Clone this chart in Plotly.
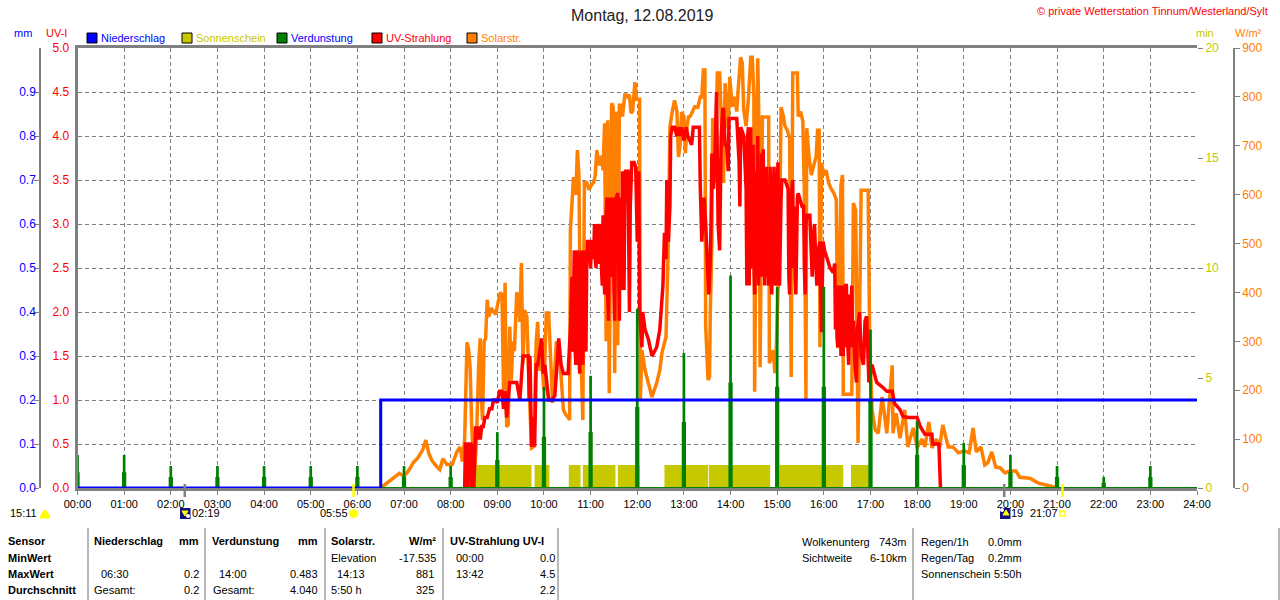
import plotly.graph_objects as go

# ---- data ------------------------------------------------------------------
hour_ticks = [h * 60 for h in range(25)]
hour_labels = ["%02d:00" % h for h in range(25)]

rain_min = [0, 390, 390, 1440]
rain_mm = [0, 0, 0.2, 0.2]

sun_min = [502, 505, 512, 584, 588, 607, 632, 647, 650, 692, 695, 723, 755, 811, 812, 891, 903, 985, 995, 1018]
sun_val = [1.05, 0, 1.05, 0, 1.05, 0, 1.05, 0, 1.05, 0, 1.05, 0, 1.05, 0, 1.05, 0, 1.05, 0, 1.05, 0]

evap_hours = list(range(24))
evap_low = [0.036, 0.036, 0.025, 0.025, 0.025, 0.025, 0.025, 0.025, 0.025, 0.064, 0.116, 0.127, 0.184,
            0.15, 0.24, 0.23, 0.23, 0.2, 0.075, 0.052, 0.036, 0.025, 0.012, 0.025]
evap_top = [0.075, 0.075, 0.05, 0.05, 0.05, 0.05, 0.05, 0.05, 0.05, 0.127, 0.23, 0.255, 0.407,
            0.307, 0.483, 0.457, 0.457, 0.36, 0.152, 0.102, 0.075, 0.05, 0.025, 0.05]

solar_min = [390, 396, 402, 408, 414, 420, 426, 432, 438, 444, 448, 452, 456, 462, 466, 470, 475, 482, 488, 492,
             495, 498, 500, 501, 503, 505, 507, 509, 511, 513, 516, 518, 519, 521, 523, 525, 527, 529, 532, 535,
             538, 541, 544, 546, 548, 550, 552, 554, 556, 558, 560, 562, 565, 567, 569, 571, 573, 575, 578, 581,
             584, 587, 590, 592, 594, 597, 600, 603, 606, 609, 611, 613, 616, 619, 622, 625, 628, 631, 633, 634,
             636, 638, 641, 643, 645, 647, 650, 652, 655, 658, 661, 664, 666, 668, 671, 674, 676, 678, 680, 682,
             684, 686, 687, 689, 691, 693, 695, 697, 699, 701, 704, 706, 708, 710, 712, 714, 717, 719, 721, 723,
             724, 726, 730, 734, 739, 745, 749, 752, 755, 757, 760, 762, 765, 768, 771, 773, 775, 777, 780, 782,
             784, 786, 788, 791, 794, 798, 801, 803, 805, 807, 808, 811, 813, 814, 816, 817, 819, 821, 823, 826,
             829, 831, 833, 835, 837, 839, 842, 845, 848, 850, 853, 855, 857, 860, 863, 866, 868, 870, 871, 873,
             875, 877, 878, 881, 884, 886, 889, 890, 895, 897, 899, 901, 903, 905, 908, 910, 913, 916, 918, 920,
             923, 926, 927, 930, 933, 935, 937, 938, 941, 944, 947, 950, 952, 954, 955, 957, 960, 963, 966, 969,
             973, 976, 978, 980, 982, 984, 985, 988, 992, 996, 998, 1001, 1004, 1006, 1008, 1012, 1017, 1019, 1022, 1026,
             1030, 1035, 1041, 1048, 1049, 1053, 1058, 1064, 1068, 1075, 1080, 1086, 1090, 1095, 1099, 1105, 1109, 1113, 1120, 1126,
             1133, 1141, 1147, 1152, 1156, 1162, 1167, 1171, 1176, 1181, 1187, 1193, 1199, 1207, 1212, 1225, 1236, 1251, 1260]
solar_wm2 = [0, 8, 14, 22, 30, 24, 36, 52, 62, 78, 98, 70, 56, 44, 38, 60, 48, 48, 74, 84,
             54, 100, 200, 298, 285, 247, 130, 60, 43, 90, 250, 306, 200, 139, 300, 306, 385, 350, 368, 360,
             355, 380, 400, 395, 200, 420, 125, 130, 330, 220, 300, 280, 400, 385, 340, 460, 255, 364, 350, 200,
             82, 85, 300, 340, 240, 260, 200, 358, 358, 250, 174, 220, 300, 280, 230, 160, 150, 145, 139, 527,
             585, 636, 600, 691, 640, 300, 139, 625, 625, 610, 620, 625, 640, 691, 660, 680, 650, 746, 300, 752,
             194, 752, 787, 780, 235, 770, 292, 783, 783, 760, 804, 804, 800, 804, 767, 770, 830, 795, 795, 795,
             180, 282, 241, 215, 186, 215, 241, 278, 300, 309, 500, 738, 770, 793, 770, 677, 700, 769, 760, 685,
             740, 759, 760, 769, 780, 779, 800, 800, 855, 855, 333, 221, 228, 364, 500, 757, 624, 700, 849, 849,
             720, 624, 828, 780, 735, 841, 780, 800, 770, 820, 881, 870, 773, 740, 797, 881, 881, 800, 197, 600,
             879, 700, 247, 759, 759, 759, 759, 255, 282, 235, 290, 400, 500, 779, 760, 740, 732, 715, 227, 849,
             849, 849, 760, 770, 750, 600, 180, 736, 677, 640, 660, 677, 732, 732, 288, 665, 640, 650, 625, 613,
             603, 590, 286, 400, 620, 640, 192, 192, 192, 192, 583, 568, 92, 300, 609, 609, 609, 300, 160, 119,
             112, 186, 112, 251, 112, 153, 102, 160, 84, 123, 82, 100, 84, 135, 82, 100, 84, 129, 84, 84,
             72, 76, 72, 123, 74, 84, 47, 52, 74, 43, 41, 31, 35, 35, 22, 20, 10, 4, 0]

uv_points = [
    (498, 0), (499, 0.5), (501, 0.5), (502, 0), (504, 0.5), (506, 0.5), (507, 0), (509, 0.5), (510, 0), (512, 0.7),
    (514, 0.55), (516, 0.7), (518, 0.55), (520, 0.7), (522, 0.7), (524, 0.8), (527, 0.8), (530, 0.9), (533, 0.9), (535, 1.0),
    (537, 1.0), (540, 0.97), (543, 1.1), (546, 1.1), (548, 0.9), (550, 1.1), (552, 0.8), (554, 1.0), (556, 1.2), (559, 1.2),
    (562, 1.2), (565, 1.2), (569, 1.0), (571, 1.3), (573, 1.5), (575, 1.5), (578, 1.5), (580, 1.5), (581, 1.0), (582, 1.5),
    (584, 0.47), (586, 0.8), (588, 0.47), (590, 1.4), (592, 1.4), (595, 1.6), (597, 1.7), (599, 1.3), (601, 1.4), (603, 1.25),
    (606, 1.0), (610, 1.0), (614, 1.05), (616, 1.3), (618, 1.7), (619, 1.7), (622, 1.4), (625, 1.3), (628, 1.3), (631, 1.3),
    (634, 1.8), (636, 2.4), (637, 1.55), (638, 2.5), (639, 2.7), (640, 1.6), (641, 1.4), (642, 2.6), (643, 2.7), (644, 1.7),
    (645, 1.4), (646, 1.3), (647, 2.5), (648, 2.7), (649, 1.8), (650, 1.4), (651, 2.5), (652, 2.7), (653, 1.9), (654, 1.55),
    (655, 2.6), (656, 2.8), (658, 2.8), (659, 2.5), (660, 2.5), (661, 2.8), (663, 2.8), (664, 2.6), (665, 3.0), (666, 2.6),
    (667, 2.5), (668, 2.9), (669, 3.0), (670, 2.6), (671, 2.55), (672, 2.9), (673, 3.0), (674, 2.5), (675, 2.3), (676, 3.1),
    (677, 2.5), (678, 2.2), (679, 2.9), (680, 3.1), (681, 3.3), (682, 2.2), (683, 1.9), (684, 3.1), (685, 3.3), (686, 2.6),
    (687, 2.4), (688, 3.1), (689, 3.3), (690, 2.3), (691, 1.9), (692, 3.0), (693, 3.3), (695, 3.35), (696, 2.3), (697, 1.9),
    (698, 3.1), (699, 3.3), (700, 2.25), (701, 3.6), (702, 2.6), (703, 2.25), (704, 3.4), (705, 3.6), (708, 3.6), (709, 2.6),
    (710, 2.0), (711, 3.2), (712, 3.4), (713, 3.7), (716, 3.7), (718, 3.65), (720, 2.8), (722, 3.6), (723, 2.0), (726, 1.6),
    (727, 2.0), (730, 1.8), (734, 1.7), (739, 1.5), (745, 1.6), (749, 1.8), (753, 2.3), (755, 2.9), (757, 2.6), (758, 3.5),
    (760, 2.8), (762, 3.2), (763, 4.0), (765, 4.1), (768, 4.1), (771, 4.0), (773, 4.1), (775, 4.0), (777, 4.1), (780, 3.95),
    (783, 4.1), (785, 4.0), (790, 3.9), (792, 4.1), (795, 4.1), (798, 4.1), (800, 4.1), (801, 3.45), (803, 2.8), (806, 3.3),
    (808, 3.0), (812, 2.2), (814, 2.6), (815, 3.05), (816, 3.8), (818, 3.4), (820, 3.8), (822, 4.5), (824, 3.0), (826, 2.7),
    (828, 4.0), (830, 4.3), (831, 4.3), (833, 3.9), (835, 3.9), (837, 3.6), (838, 4.2), (841, 4.2), (844, 4.2), (848, 4.2),
    (851, 3.7), (852, 3.2), (853, 4.1), (857, 4.0), (860, 3.4), (861, 2.3), (862, 4.0), (863, 4.1), (864, 2.3), (865, 3.0),
    (866, 4.1), (867, 2.5), (869, 3.9), (870, 2.6), (871, 2.2), (872, 3.6), (873, 2.4), (875, 4.0), (876, 2.3), (877, 3.5),
    (878, 2.4), (880, 3.8), (881, 2.4), (882, 3.85), (883, 2.5), (884, 2.3), (885, 3.4), (886, 3.65), (887, 2.4), (888, 3.2),
    (889, 2.3), (891, 3.65), (892, 2.4), (893, 2.2), (895, 3.4), (896, 3.65), (897, 2.4), (898, 2.3), (900, 3.4), (901, 3.7),
    (902, 2.4), (903, 2.3), (905, 3.3), (906, 3.5), (910, 3.5), (912, 3.45), (914, 3.4), (915, 2.4), (916, 2.2), (918, 3.3),
    (920, 3.5), (921, 2.5), (922, 3.2), (923, 2.4), (924, 2.2), (926, 3.3), (927, 3.35), (932, 3.2), (934, 3.2), (935, 2.5),
    (936, 2.2), (937, 3.0), (938, 3.1), (942, 3.1), (944, 2.6), (945, 2.4), (947, 2.9), (948, 3.0), (950, 2.5), (951, 2.3),
    (953, 2.7), (955, 2.8), (956, 2.2), (957, 1.77), (958, 2.3), (959, 2.8), (961, 2.7), (964, 2.6), (968, 2.5), (972, 2.45),
    (974, 2.55), (975, 1.8), (976, 2.3), (977, 1.7), (978, 1.6), (979, 2.3), (980, 1.8), (981, 2.3), (982, 1.5), (983, 2.3),
    (984, 1.7), (985, 1.5), (986, 2.3), (987, 1.6), (988, 2.3), (989, 2.3), (990, 1.8), (991, 1.5), (992, 1.4), (993, 2.2),
    (994, 1.6), (996, 2.3), (997, 1.6), (998, 1.9), (1000, 1.4), (1002, 1.2), (1003, 1.8), (1006, 2.0), (1008, 1.5), (1011, 1.4),
    (1013, 1.9), (1015, 1.95), (1018, 1.2), (1022, 1.4), (1028, 1.2), (1035, 1.15), (1041, 1.1), (1048, 1.1), (1051, 0.96), (1058, 0.89),
    (1062, 0.81), (1070, 0.8), (1080, 0.8), (1084, 0.7), (1090, 0.61), (1099, 0.61), (1100, 0.5), (1108, 0.5), (1109, 0.25), (1110, 0),
]
uv_min = [p[0] for p in uv_points]
uv_idx = [p[1] for p in uv_points]

# ---- styling ---------------------------------------------------------------
W, H = 1280.0, 600.0
FONT = "Liberation Sans"
GREY = "#808080"
BLUE = "#0000ff"
YELL = "#c8c800"
GREEN = "#008000"
RED = "#ff0000"
ORANGE = "#ff8000"
SUNY = "#ffff00"


def px(v):
    return v / W


def py(v):
    return 1 - v / H


fig = go.Figure()

# drawing order follows axis number: sunshine, solar, UV, evaporation, rain
fig.add_trace(go.Scatter(x=sun_min, y=sun_val, mode="lines", name="Sonnenschein", line=dict(shape="hv", width=0, color=YELL),
                         fill="tozeroy", fillcolor=YELL, yaxis="y", hoverinfo="skip"))
fig.add_trace(go.Scatter(x=solar_min, y=solar_wm2, mode="lines", name="Solarstr.", line=dict(color=ORANGE, width=3.5), yaxis="y2"))
fig.add_trace(go.Scatter(x=uv_min, y=uv_idx, mode="lines", name="UV-Strahlung", line=dict(color=RED, width=3.5), yaxis="y3"))
hour_x = [h * 60 for h in evap_hours]
fig.add_trace(go.Bar(x=hour_x, y=evap_top, width=3.5, marker=dict(color=GREEN, line=dict(width=0)), name="Verdunstung", yaxis="y4"))
fig.add_trace(go.Bar(x=hour_x, y=evap_low, width=5.5, marker=dict(color=GREEN, line=dict(width=0)), name="Verdunstung min", yaxis="y4", showlegend=False))
fig.add_trace(go.Scatter(x=[0, 1440], y=[0, 0], mode="lines", line=dict(color=GREEN, width=2), yaxis="y4", showlegend=False, hoverinfo="skip"))
fig.add_trace(go.Scatter(x=rain_min, y=rain_mm, mode="lines", name="Niederschlag", line=dict(color=BLUE, width=3), yaxis="y4"))


def fnt(c, s=11):
    return dict(family=FONT, size=s, color=c)


DASH = "4px,3px"
fig.update_layout(
    width=W, height=H, autosize=False, showlegend=False, barmode="overlay",
    paper_bgcolor="white", plot_bgcolor="white",
    margin=dict(l=0, r=0, t=0, b=0, pad=0, autoexpand=False), font=fnt("black"),
    xaxis=dict(domain=[px(77.5), px(1197)], range=[0, 1440], tickmode="array", tickvals=hour_ticks, ticktext=hour_labels,
               showgrid=True, gridcolor=GREY, griddash=DASH, gridwidth=1, zeroline=False,
               showline=True, linecolor=GREY, linewidth=3, mirror=True, ticks="outside", ticklen=4, tickcolor=GREY,
               tickfont=fnt("black"), tickangle=0, ticklabelstandoff=0),
    yaxis=dict(domain=[py(488), py(48)], range=[0, 20], tickvals=[0, 5, 10, 15, 20], side="right", anchor="x", showgrid=False, zeroline=False,
               ticks="outside", ticklen=5, tickcolor=GREY, tickfont=fnt(YELL, 12), showline=False),
    yaxis2=dict(range=[0, 900], tickvals=list(range(0, 901, 100)), side="right", overlaying="y", anchor="free",
                position=px(1234), showgrid=False, zeroline=False, showline=True, linecolor=GREY, linewidth=1.5,
                ticks="outside", ticklen=5, tickcolor=GREY, tickfont=fnt(ORANGE, 12)),
    yaxis3=dict(range=[0, 5], tickvals=[i / 2 for i in range(11)], tickformat=".1f", side="left", overlaying="y", anchor="x",
                showgrid=True, gridcolor=GREY, griddash=DASH, gridwidth=1, zeroline=False,
                ticks="outside", ticklen=3, tickcolor="white", tickfont=fnt(RED, 12), showline=True, linecolor=GREY, linewidth=3),
    yaxis4=dict(range=[0, 1], tickvals=[i / 10 for i in range(10)], tickformat=".1f", side="left", overlaying="y", anchor="free",
                position=px(40), showgrid=False, zeroline=False, showline=True, linecolor=GREY, linewidth=1.5,
                ticks="outside", ticklen=5, tickcolor=GREY, tickfont=fnt(BLUE, 12), ticklabelstandoff=-4),
)


def text(x, y, s, color="black", size=11, anchor="left", bold=False):
    fig.add_annotation(xref="paper", yref="paper", x=px(x), y=py(y), text=("<b>%s</b>" % s) if bold else s, showarrow=False,
                       xanchor=anchor, yanchor="middle", font=fnt(color, size), align=anchor, borderpad=0, borderwidth=0)


text(642, 15, "Montag, 12.08.2019", "#222222", 16, "center")
text(1268, 11, "© private Wetterstation Tinnum/Westerland/Sylt", RED, 11, "right")

text(22.5, 33, "mm", BLUE, 11, "center")
text(56, 33, "UV-I", RED, 11, "center")
text(1205, 33, "min", YELL, 11, "center")
text(1248, 33, "W/m²", ORANGE, 11, "center")

legend_items = [(87, "Niederschlag", BLUE, BLUE), (182, "Sonnenschein", YELL, YELL), (277, "Verdunstung", GREEN, BLUE),
                (372, "UV-Strahlung", RED, RED), (467, "Solarstr.", ORANGE, ORANGE)]
shapes = []
for lx, name, col, tcol in legend_items:
    shapes.append(dict(type="rect", xref="paper", yref="paper", x0=px(lx), x1=px(lx + 10), y0=py(33), y1=py(43),
                       fillcolor=col, line=dict(color="black", width=1)))
    text(lx + 14, 38, name, tcol, 11)

# table separators
for lx in [88, 205, 325, 443, 558, 913, 1279]:
    shapes.append(dict(type="line", xref="paper", yref="paper", x0=px(lx), x1=px(lx), y0=py(528), y1=py(600),
                       line=dict(color="#a0a0a0", width=1.5)))

# time marks under the axis
for tm, col in [(138, GREY), (355, SUNY), (1192, GREY), (1267, SUNY)]:
    shapes.append(dict(type="line", xref="x", yref="paper", x0=tm, x1=tm, y0=py(484), y1=py(497), line=dict(color=col, width=2.5)))

# icons
shapes.append(dict(type="path", xref="paper", yref="paper",
                   path="M %f %f Q %f %f %f %f Z" % (px(40), py(518), px(45), py(503), px(50), py(518)),
                   fillcolor=SUNY, line=dict(color=SUNY, width=1)))
for ix in [180, 1000]:
    shapes.append(dict(type="rect", xref="paper", yref="paper", x0=px(ix), x1=px(ix + 10.5), y0=py(508), y1=py(519),
                       fillcolor="#101080", line=dict(width=0)))
shapes.append(dict(type="path", xref="paper", yref="paper",
                   path="M %f %f L %f %f L %f %f Z" % (px(182), py(511), px(188), py(511), px(185), py(516)),
                   fillcolor=SUNY, line=dict(color=SUNY, width=1)))
shapes.append(dict(type="circle", xref="paper", yref="paper", x0=px(186), x1=px(190), y0=py(514), y1=py(518),
                   fillcolor="white", line=dict(width=0)))
shapes.append(dict(type="path", xref="paper", yref="paper",
                   path="M %f %f L %f %f L %f %f Z" % (px(1003), py(515), px(1009), py(515), px(1006), py(510)),
                   fillcolor=SUNY, line=dict(color=SUNY, width=1)))
shapes.append(dict(type="circle", xref="paper", yref="paper", x0=px(1000), x1=px(1004), y0=py(508), y1=py(512),
                   fillcolor="white", line=dict(width=0)))
shapes.append(dict(type="circle", xref="paper", yref="paper", x0=px(349), x1=px(358), y0=py(509), y1=py(518),
                   fillcolor=SUNY, line=dict(color="#ffff80", width=1)))
shapes.append(dict(type="rect", xref="paper", yref="paper", x0=px(1060), x1=px(1065), y0=py(511), y1=py(516),
                   fillcolor="white", line=dict(color=SUNY, width=1.5)))
fig.update_layout(shapes=shapes)

text(10, 513, "15:11")
text(192, 513, "02:19")
text(320, 513, "05:55")
text(1011, 513, "19")
text(1030, 513, "21:07")

# table text
for y, s in [(541, "Sensor"), (558, "MinWert"), (574, "MaxWert"), (590, "Durchschnitt")]:
    text(8, y, s, bold=True)
text(94, 541, "Niederschlag", bold=True)
text(199, 541, "mm", anchor="right", bold=True)
text(212, 541, "Verdunstung", bold=True)
text(318, 541, "mm", anchor="right", bold=True)
text(331, 541, "Solarstr.", bold=True)
text(436, 541, "W/m²", anchor="right", bold=True)
text(450, 541, "UV-Strahlung UV-I", bold=True)

text(331, 558, "Elevation")
text(436, 558, "-17.535", anchor="right")
text(456, 558, "00:00")
text(555, 558, "0.0", anchor="right")

text(101, 574, "06:30")
text(199, 574, "0.2", anchor="right")
text(219, 574, "14:00")
text(318, 574, "0.483", anchor="right")
text(337, 574, "14:13")
text(434, 574, "881", anchor="right")
text(456, 574, "13:42")
text(555, 574, "4.5", anchor="right")

text(94, 590, "Gesamt:")
text(199, 590, "0.2", anchor="right")
text(213, 590, "Gesamt:")
text(318, 590, "4.040", anchor="right")
text(331, 590, "5:50 h")
text(434, 590, "325", anchor="right")
text(555, 590, "2.2", anchor="right")

text(802, 542, "Wolkenunterg")
text(907, 542, "743m", anchor="right")
text(802, 558, "Sichtweite")
text(907, 558, "6-10km", anchor="right")
text(921, 542, "Regen/1h")
text(1022, 542, "0.0mm", anchor="right")
text(921, 558, "Regen/Tag")
text(1022, 558, "0.2mm", anchor="right")
text(921, 574, "Sonnenschein")
text(1022, 574, "5:50h", anchor="right")

# remove the page's default body margin so the figure fills the window exactly
fig.write_html("out.html", config=dict(displayModeBar=False),
               post_script="document.body.style.margin='0';document.body.style.overflow='hidden';")
